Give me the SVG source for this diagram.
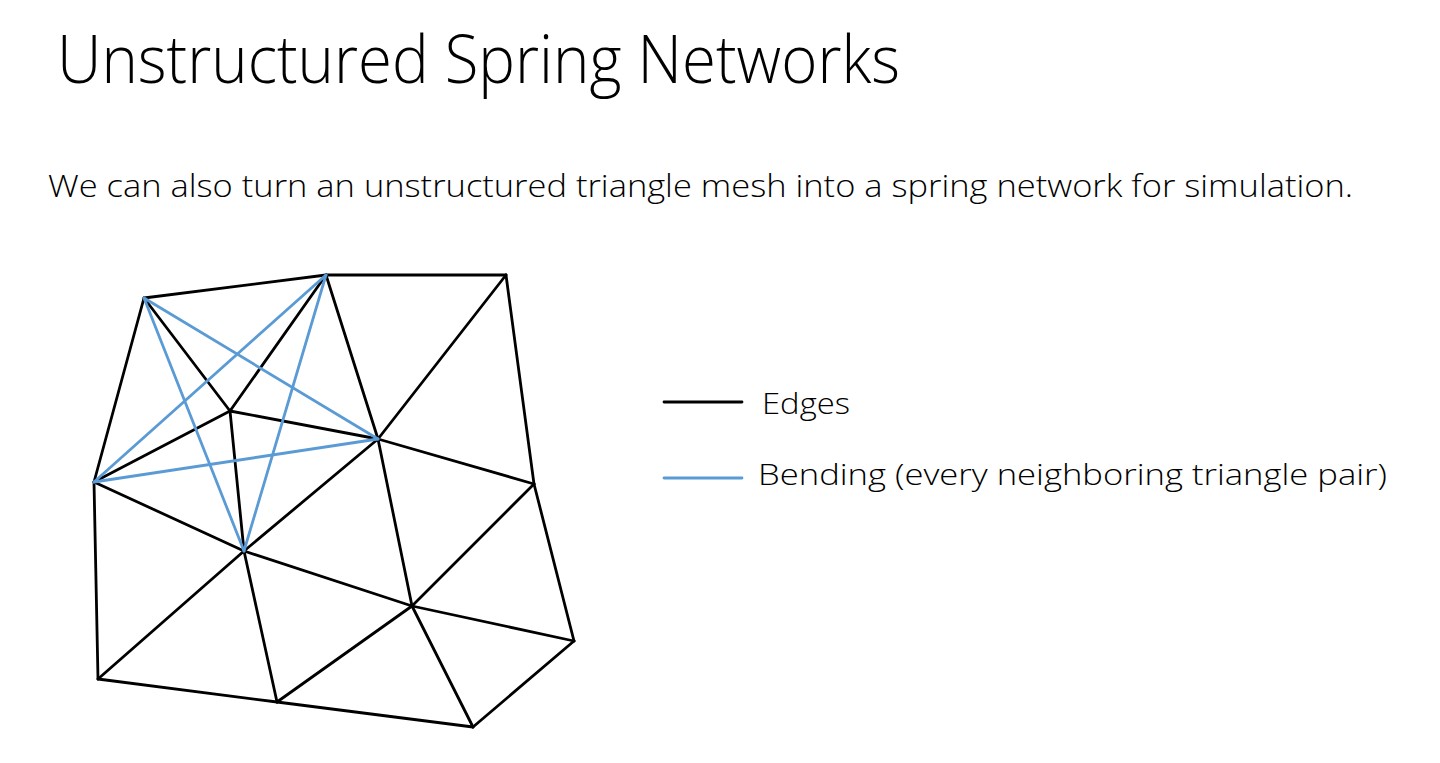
<svg xmlns="http://www.w3.org/2000/svg" width="1440" height="763" viewBox="0 0 1440 763">
<style>
.t{font-family:"Open Sans","Liberation Sans",sans-serif;font-weight:300;fill:#000}
.e{stroke:#000;stroke-width:2.8;stroke-linecap:round;fill:none}
.b{stroke:#5B9BD5;stroke-width:2.8;stroke-linecap:round;fill:none}
</style>
<rect width="1440" height="763" fill="#fff"/>
<text class="t" x="57" y="83" font-size="67" font-weight="350" textLength="843" lengthAdjust="spacingAndGlyphs">Unstructured Spring Networks</text>
<text class="t" x="48" y="197" font-size="31" textLength="1305" lengthAdjust="spacingAndGlyphs">We can also turn an unstructured triangle mesh into a spring network for simulation.</text>
<g id="connectors">
<g id="edges">
<line class="e" x1="144" y1="298" x2="326" y2="275"/>
<line class="e" x1="326" y1="275" x2="506" y2="275"/>
<line class="e" x1="144" y1="298" x2="94" y2="482"/>
<line class="e" x1="144" y1="298" x2="230" y2="411"/>
<line class="e" x1="326" y1="275" x2="230" y2="411"/>
<line class="e" x1="326" y1="275" x2="378" y2="439"/>
<line class="e" x1="506" y1="275" x2="378" y2="439"/>
<line class="e" x1="506" y1="275" x2="534" y2="484"/>
<line class="e" x1="230" y1="411" x2="94" y2="482"/>
<line class="e" x1="230" y1="411" x2="378" y2="439"/>
<line class="e" x1="230" y1="411" x2="244" y2="551"/>
<line class="e" x1="94" y1="482" x2="244" y2="551"/>
<line class="e" x1="94" y1="482" x2="98" y2="679"/>
<line class="e" x1="378" y1="439" x2="244" y2="551"/>
<line class="e" x1="378" y1="439" x2="534" y2="484"/>
<line class="e" x1="378" y1="439" x2="412" y2="606"/>
<line class="e" x1="534" y1="484" x2="412" y2="606"/>
<line class="e" x1="534" y1="484" x2="574" y2="641"/>
<line class="e" x1="244" y1="551" x2="98" y2="679"/>
<line class="e" x1="244" y1="551" x2="277" y2="702"/>
<line class="e" x1="244" y1="551" x2="412" y2="606"/>
<line class="e" x1="98" y1="679" x2="277" y2="702"/>
<line class="e" x1="277" y1="702" x2="412" y2="606"/>
<line class="e" x1="277" y1="702" x2="473" y2="727"/>
<line class="e" x1="412" y1="606" x2="473" y2="727"/>
<line class="e" x1="412" y1="606" x2="574" y2="641"/>
<line class="e" x1="574" y1="641" x2="473" y2="727"/>
</g>
<g id="bending">
<line class="b" x1="144" y1="298" x2="244" y2="551"/>
<line class="b" x1="144" y1="298" x2="378" y2="439"/>
<line class="b" x1="326" y1="275" x2="94" y2="482"/>
<line class="b" x1="326" y1="275" x2="244" y2="551"/>
<line class="b" x1="94" y1="482" x2="378" y2="439"/>
</g>
</g>
<g id="legend-edges">
<line class="e" x1="664" y1="402" x2="742" y2="402" stroke-linecap="butt"/>
<text class="t" x="762" y="414" font-size="29" textLength="88" lengthAdjust="spacingAndGlyphs">Edges</text>
</g>
<g id="legend-bending">
<line class="b" x1="664" y1="478" x2="742" y2="478" stroke-linecap="butt"/>
<text class="t" x="758" y="485" font-size="29" textLength="629" lengthAdjust="spacingAndGlyphs">Bending (every neighboring triangle pair)</text>
</g>
</svg>
